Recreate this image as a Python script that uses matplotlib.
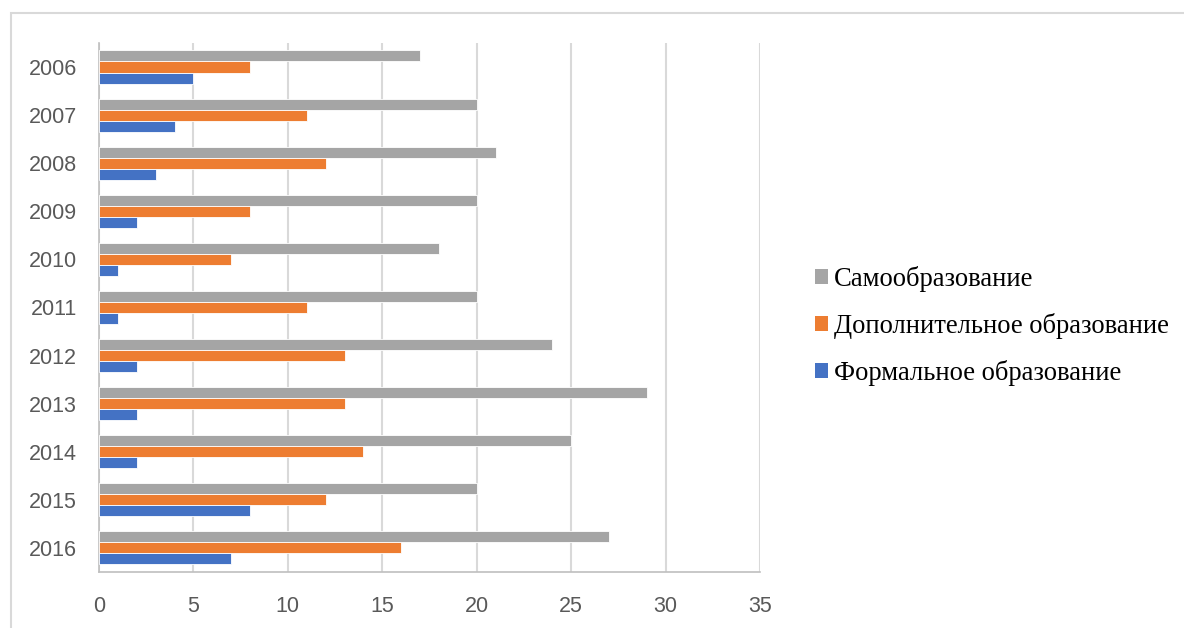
import numpy as np
import matplotlib.pyplot as plt
from matplotlib.patches import Patch, Rectangle

# data
years = ['2006', '2007', '2008', '2009', '2010', '2011', '2012', '2013', '2014', '2015', '2016']
self_edu = [17, 20, 21, 20, 18, 20, 24, 29, 25, 20, 27]
extra_edu = [8, 11, 12, 8, 7, 11, 13, 13, 14, 12, 16]
formal_edu = [5, 4, 3, 2, 1, 1, 2, 2, 2, 8, 7]

names = ['Самообразование', 'Дополнительное образование', 'Формальное образование']
colors = ['#A5A5A5', '#ED7D31', '#4472C4']

fig = plt.figure(figsize=(11.84, 6.28), dpi=100)
ax = fig.add_axes([0.0836, 0.0892, 0.5583, 0.8424])

y = np.arange(len(years))
h = 0.229
for i, (vals, c) in enumerate(zip([self_edu, extra_edu, formal_edu], colors)):
    ax.barh(y + (i - 1) * h, vals, height=h, color=c, edgecolor='white', linewidth=0.6, zorder=3)

ax.set_ylim(len(years) - 0.5, -0.5)
ax.set_xlim(0, 35)
ax.set_xticks(np.arange(0, 36, 5))
ax.set_yticks(y)
ax.set_yticklabels(years)
ax.tick_params(length=0, labelsize=15.5, colors='#595959')
ax.tick_params(axis='y', pad=16)
ax.tick_params(axis='x', pad=17)
for lab in ax.get_xticklabels() + ax.get_yticklabels():
    lab.set_family('Liberation Sans')

ax.grid(axis='x', color='#D9D9D9', linewidth=1.5, zorder=0)
for s in ['top', 'right']:
    ax.spines[s].set_visible(False)
ax.spines['left'].set_color('#BFBFBF')
ax.spines['bottom'].set_color('#BFBFBF')
ax.spines['left'].set_linewidth(1.2)
ax.spines['bottom'].set_linewidth(1.2)

handles = [Patch(facecolor=c, edgecolor='none') for c in colors]
fig.legend(handles, names, loc='center left', bbox_to_anchor=(0.668, 0.481),
           frameon=False, handlelength=0.5, handleheight=0.5, handletextpad=0.2,
           labelspacing=0.78, prop={'family': 'Liberation Serif', 'size': 19.2})

# outer chart border (partly cropped in the reference)
fig.patches.append(Rectangle((11 / 1184, -0.1), 1.2, 1.1 - 13 / 628, transform=fig.transFigure,
                             fill=False, edgecolor='#D9D9D9', linewidth=1.5))

fig.savefig('out.png', dpi=100)
